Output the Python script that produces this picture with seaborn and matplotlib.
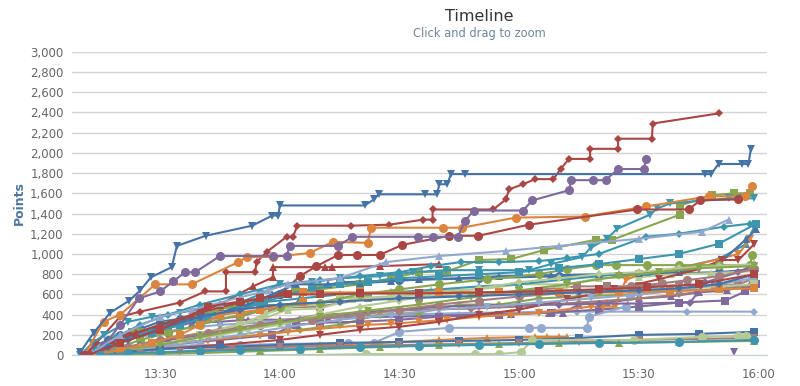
import matplotlib
matplotlib.use("Agg")
import matplotlib.pyplot as plt
import matplotlib.dates as mdates
from matplotlib.ticker import FuncFormatter, MultipleLocator
import pandas as pd
import seaborn as sns

# series points: (minutes after 13:00, points)
team_00 = [(11, 0), (14, 100), (17, 150), (20, 200), (25, 260), (30, 330), (35, 360), (40, 400), (45, 420), (50, 470), (55, 520), (60, 600), (68, 650), (75, 720), (90, 740), (110, 760), (130, 780), (150, 800), (170, 820), (179, 850)]
team_01 = [(11, 0), (14, 120), (20, 380), (25, 430), (35, 520), (41.3, 630), (46.5, 630), (46.5, 820), (53.8, 820), (54.2, 920), (56.7, 1020), (61.7, 1170), (63.3, 1170), (64.4, 1280), (77.9, 1280), (87.5, 1290), (96, 1340), (98.3, 1340), (98.3, 1440), (113.5, 1440), (116.7, 1540), (117.5, 1640), (121, 1690), (124, 1740), (128.6, 1740), (130.4, 1840), (132.5, 1940), (137.8, 1940), (137.8, 2040), (144.8, 2040), (144.8, 2140), (153.3, 2140), (153.5, 2290), (170, 2390)]
team_02 = [(12, 0), (18, 100), (22.9, 230), (25, 230), (32, 300), (40, 400), (48, 480), (55, 560), (63.8, 640), (70, 650), (80, 700), (88, 760), (95, 820), (102, 830), (110, 940), (118, 950), (126.3, 1040), (139.2, 1140), (143.3, 1140), (160.4, 1390), (160.4, 1480), (168.3, 1580), (174, 1600), (178, 1600)]
team_03 = [(12, 0), (16, 80), (22, 180), (30, 250), (38, 320), (45, 330), (52, 350), (60, 350), (72, 370), (90, 380), (105, 400), (118, 410), (127.5, 420), (131, 420), (135, 500), (142, 520), (150, 560), (158, 580), (165, 620), (172, 640), (178, 700)]
team_04 = [(10, 0), (13, 120), (16, 200), (22, 330), (28, 380), (35, 420), (42, 470), (50, 520), (55, 600), (60, 700), (68, 720), (75, 760), (85, 780), (93.3, 820), (101.7, 840), (110, 840), (122.5, 840), (128, 900), (135.8, 970), (137.9, 1060), (142, 1150), (144.6, 1250), (152.9, 1390), (154.6, 1450), (157.9, 1500), (172.5, 1550), (176, 1550), (179, 1550)]
team_05 = [(11, 0), (15.8, 330), (20, 400), (28.8, 700), (37.9, 700), (49.6, 920), (51.7, 970), (58.3, 970), (67.5, 1010), (73.3, 1120), (82, 1110), (82.9, 1260), (100.8, 1260), (105.7, 1260), (119.2, 1360), (136.4, 1370), (151.9, 1470), (167.5, 1570), (176.7, 1570), (178.3, 1670)]
team_06 = [(12, 0), (15, 80), (20, 150), (28, 200), (35, 260), (45, 300), (55, 320), (65, 360), (75, 380), (88, 400), (100, 410), (110, 420), (118, 420), (125, 430), (129, 430), (134.6, 430), (162, 430), (179, 430)]
team_07 = [(12, 0), (18, 120), (25, 200), (32, 280), (40, 350), (50, 380), (58, 470), (70, 480), (82, 560), (95, 570), (110, 620), (120, 630), (134.6, 680), (142, 680), (150, 680), (160, 690), (169, 690), (175, 700), (179, 760)]
team_08 = [(12, 0), (18, 50), (26, 120), (35, 180), (45, 260), (55, 350), (62, 450), (70, 460), (78, 550), (88, 560), (98, 640), (110, 650), (120, 700), (132, 700), (140, 760), (150, 770), (158, 800), (168, 810), (179, 830)]
team_09 = [(10, 30), (13.3, 220), (17.5, 420), (22.3, 540), (25, 640), (27.7, 770), (32.9, 870), (34.2, 1080), (41.4, 1180), (53.1, 1280), (58.1, 1380), (59.6, 1380), (60, 1480), (81.3, 1480), (83.6, 1540), (84.8, 1590), (96.4, 1590), (99.4, 1590), (100, 1690), (102, 1690), (102.9, 1790), (106.5, 1790), (166.7, 1790), (168.1, 1790), (170, 1890), (176, 1890), (177.5, 1890), (178.1, 2040)]
team_10 = [(11, 0), (16, 90), (22, 200), (30, 280), (40, 420), (50, 520), (60, 600), (65, 780), (69.2, 880), (74.6, 990), (79.4, 990), (85, 990), (90.7, 1090), (102.5, 1180), (109.8, 1180), (122.5, 1290), (149.6, 1440), (162.5, 1440), (165.4, 1530), (175, 1540)]
team_11 = [(13, 0), (20, 50), (30, 100), (42, 150), (55, 200), (65, 250), (75, 300), (85, 400), (95, 420), (105, 500), (115, 500), (125, 560), (135, 580), (148, 600), (160, 640), (170, 650), (179, 700)]
team_12 = [(15, 0), (22, 60), (32, 100), (45, 150), (58, 200), (64, 300), (70, 320), (80, 330), (90, 350), (100, 380), (115, 400), (128, 420), (140, 450), (150, 480), (160, 520), (171.7, 540), (176.7, 630), (179.5, 700)]
team_13 = [(12, 0), (18, 100), (25, 200), (32, 300), (40, 380), (48, 450), (55, 520), (65, 560), (75, 600), (88, 620), (100, 650), (110, 680), (120, 700), (132, 750), (145, 800), (152, 820), (160, 860), (170, 950), (177, 1100), (179, 1250)]
team_14 = [(15, 0), (22, 50), (30, 100), (42, 150), (55, 200), (62, 230), (70, 260), (82, 300), (88, 310), (95, 330), (102, 350), (110, 380), (118, 400), (125, 420), (137.9, 480), (141, 480), (144, 480), (146.7, 740), (150, 800), (160, 850), (175, 1000), (178, 1150)]
team_15 = [(12, 0), (20, 60), (30, 80), (40, 100), (50, 100), (60, 110), (77, 120), (83.5, 120), (90, 230), (102.5, 270), (122.5, 270), (125.4, 270), (137, 270), (137.5, 380), (146.7, 480), (147.9, 580), (150, 620), (160, 650), (170, 700), (178.5, 760)]
team_16 = [(12, 0), (18, 60), (25, 100), (35, 180), (45, 250), (55, 300), (70, 400), (82, 420), (95, 450), (108, 460), (120, 480), (135, 520), (150, 560), (160, 600), (170, 650), (179, 700)]
team_17 = [(14, 0), (20, 60), (30, 100), (40, 200), (50, 300), (56, 400), (62, 480), (70, 500), (75, 560), (88, 580), (100, 600), (110, 610), (120, 620), (130, 640), (140, 650), (150, 650), (160, 660), (170, 680), (179, 700)]
team_18 = [(12, 0), (18, 150), (24, 220), (30, 300), (38, 360), (45, 420), (52, 500), (58, 600), (64, 700), (72, 700), (80, 710), (88, 730), (95, 750), (105, 760), (115, 780), (128, 790), (140, 800), (150, 810), (160, 820), (170, 900), (177, 1150), (179.5, 1250)]
team_19 = [(15, 0), (22, 30), (30, 60), (45, 100), (60, 150), (70, 200), (80, 250), (90, 280), (100, 330), (110, 400), (120, 450), (132, 550), (143.8, 650), (155, 750), (165, 850), (170.8, 940), (175, 940), (179, 1100)]
team_20 = [(15, 0), (20, 80), (25, 150), (32, 220), (40, 300), (50, 400), (60, 480), (70, 520), (80, 600), (90, 650), (100, 700), (112, 750), (125, 800), (132, 850), (139.2, 890), (144.2, 890), (152, 890), (160, 890), (170, 890), (178, 890), (178.3, 990)]
team_21 = [(14, 0), (20, 50), (25, 100), (32, 150), (40, 200), (50, 260), (60, 330), (70, 380), (80, 420), (90, 450), (100, 480), (110, 490), (120, 500), (130, 500), (140, 510), (150, 510), (160.4, 520), (162.9, 520), (164.6, 610), (166.7, 720), (175, 820), (179, 900)]
team_22 = [(13, 0), (20, 150), (28, 220), (35, 300), (42, 380), (50, 450), (56, 520), (62, 600), (68, 650), (75, 700), (82, 720), (90, 760), (100, 780), (110, 800), (120, 820), (130, 860), (140, 900), (150, 950), (160, 1000), (170, 1100), (179.5, 1300)]
team_23 = [(20, 0), (30, 20), (40, 50), (55, 80), (70, 100), (85, 120), (100, 150), (112, 170), (124, 180), (127, 180), (130, 180), (132, 180)]
team_24 = [(14, 0), (20, 40), (28, 80), (38, 130), (50, 200), (62, 280), (75, 350), (88, 400), (100, 450), (112, 480), (125, 520), (138, 560), (150, 600), (160, 640), (170, 700), (179, 800)]
team_25 = [(14, 0), (22, 80), (30, 150), (42, 220), (55, 300), (68, 350), (80, 400), (90, 450), (100, 500), (110, 540), (120, 580), (130, 610), (140, 640), (148, 680), (155.8, 710), (162, 740), (170, 780), (179, 850)]
team_26 = [(15, 0), (20, 40), (25, 80), (35, 140), (45, 200), (52, 250), (60, 300), (70, 400), (80, 480), (90, 540), (100, 600), (110, 660), (120, 720), (130, 760), (140, 800), (150, 820), (160, 860), (170, 880), (179, 900)]
team_27 = [(13, 0), (20, 30), (30, 60), (45, 80), (60, 100), (75, 120), (90, 130), (105, 140), (120, 150), (135, 170), (150, 200), (165, 210), (179, 230)]
team_28 = [(13, 0), (18, 150), (24, 220), (30, 300), (38, 400), (45, 500), (53.3, 680), (58.3, 770), (58.3, 870), (71.3, 870), (73, 870), (85, 880), (100, 900)]
team_29 = [(14, 0), (20, 50), (30, 100), (40, 180), (50, 250), (60, 320), (70, 380), (82, 440), (95, 500), (108, 570), (120, 640), (132, 700), (145, 780), (155, 820), (165, 860), (179, 880)]
team_30 = [(12, 0), (16, 100), (20, 300), (24.6, 560), (30, 630), (33.3, 730), (36.3, 820), (38.8, 820), (45, 980), (58.3, 980), (61.7, 980), (62.5, 1080), (74.6, 1080), (78.2, 1170), (94.6, 1170), (98.3, 1170), (104.6, 1170), (106.5, 1330), (108.6, 1430), (121, 1430), (123.3, 1530), (132.5, 1630), (133.1, 1730), (138.5, 1730), (141.7, 1730), (144.8, 1840), (151.4, 1840), (151.7, 1940)]
team_31 = [(14, 50), (19, 180), (25, 300), (32, 400), (40, 500), (50, 600), (60, 700), (70, 740), (80, 780), (90, 820), (98, 880), (105.4, 920), (115, 920), (125, 930), (132, 960), (140, 1000), (151.7, 1170), (160, 1200), (171.4, 1270), (178, 1300)]
team_32 = [(13, 0), (20, 50), (28, 120), (35, 200), (40, 300), (45, 400), (50, 420), (55, 450), (65.8, 530), (65.8, 620), (80, 620), (100, 620), (115, 620), (130, 620), (145, 620), (157.9, 630), (170, 650), (179, 660)]
team_33 = [(12, 0), (20, 200), (30, 380), (38, 450), (45, 520), (57, 640), (62, 700), (75, 760), (86.7, 920), (100, 980), (116.7, 1030), (130, 1080), (150, 1150), (165.8, 1220), (172.5, 1340)]
team_34 = [(15, 0), (25, 10), (35, 30), (48, 60), (60, 80), (75, 90), (90, 100), (105, 110), (120, 120), (135, 130), (150, 150), (165, 160), (179, 170)]
team_35 = [(55, 0), (65, 0), (81.6, 10), (109, 10), (115, 10), (120.5, 30), (123.3, 150), (148.8, 150), (165.8, 180), (175, 190), (177, 190)]
team_36 = [(12, 0), (17, 80), (22, 150), (30, 260), (40, 380), (50, 450), (60, 500), (75, 530), (90, 560), (105, 580), (120, 600), (135, 620), (150, 640), (160, 660), (170, 700), (179, 800)]
team_37 = [(12, 0), (20, 120), (30, 250), (42, 480), (50, 530), (55, 560), (62, 600), (70, 600), (80, 610), (95, 610), (110, 620), (125, 630), (140, 650), (152, 670), (165, 700), (179, 800)]
team_38 = [(16, 0), (28, 10), (40, 20), (55, 40), (70, 60), (85, 80), (100, 100), (115, 110), (130, 120), (145, 120), (160, 130), (179, 140)]
team_39 = [(173.8, 30)]
team_40 = [(15, 0), (22, 20), (30, 30), (40, 40), (50, 50), (65, 60), (80, 80), (95, 90), (110, 100), (125, 110), (140, 120), (160, 130), (179, 150)]

series = [team_00, team_01, team_02, team_03, team_04, team_05, team_06, team_07, team_08, team_09,
          team_10, team_11, team_12, team_13, team_14, team_15, team_16, team_17, team_18, team_19,
          team_20, team_21, team_22, team_23, team_24, team_25, team_26, team_27, team_28, team_29,
          team_30, team_31, team_32, team_33, team_34, team_35, team_36, team_37, team_38, team_39,
          team_40]

colors = ["#4572A7", "#AA4643", "#89A54E", "#80699B", "#3D96AE",
          "#DB843D", "#92A8CD", "#A47D7C", "#B5CA92"]
markers = ["o", "D", "s", "^", "v"]
msize = {"o": 6.5, "D": 4.5, "s": 5.5, "^": 6, "v": 6}

start = pd.Timestamp("2013-01-01 13:00")
rows = []
for i, pts in enumerate(series):
    for m, p in pts:
        rows.append({"team": i, "time": start + pd.Timedelta(minutes=m), "points": p})
df = pd.DataFrame(rows)

sns.set_style("white")
plt.rcParams["font.family"] = ["DejaVu Sans"]

fig = plt.figure(figsize=(8, 3.86), dpi=100)
ax = fig.add_axes([0.09, 0.08, 0.869, 0.786])

for i in range(len(series)):
    mk = markers[i % 5]
    sub = df[df["team"] == i]
    sns.lineplot(data=sub, x="time", y="points", ax=ax, estimator=None, sort=False,
                 color=colors[i % 9], marker=mk, markersize=msize[mk],
                 markeredgewidth=0, linewidth=1.5, legend=False)

ax.set_ylim(0, 3000)
ax.set_xlim(start + pd.Timedelta(minutes=7.9), start + pd.Timedelta(minutes=182.2))
ax.yaxis.set_major_locator(MultipleLocator(200))
ax.yaxis.set_major_formatter(FuncFormatter(lambda v, _: f"{int(v):,}"))
ax.xaxis.set_major_locator(mdates.MinuteLocator(byminute=[0, 30]))
ax.xaxis.set_major_formatter(mdates.DateFormatter("%H:%M"))

ax.grid(axis="y", color="#D4D4D4", linewidth=1)
ax.grid(axis="x", visible=False)
ax.set_axisbelow(True)
for s in ["top", "right", "left"]:
    ax.spines[s].set_visible(False)
ax.spines["bottom"].set_color("#C0D0E0")
ax.tick_params(axis="y", length=0, labelsize=8.5, labelcolor="#666666", pad=6)
ax.tick_params(axis="x", length=5, color="#C0D0E0", labelsize=8.5, labelcolor="#666666", pad=4)

ax.set_xlabel("")
ax.set_ylabel("Points", color="#4D759E", fontsize=9, fontweight="bold", labelpad=3)

fig.text(0.599, 0.956, "Timeline", ha="center", va="center", fontsize=11.5, color="#333333")
fig.text(0.599, 0.914, "Click and drag to zoom", ha="center", va="center", fontsize=8.3, color="#6D869F")

fig.savefig("out.png", dpi=100)
